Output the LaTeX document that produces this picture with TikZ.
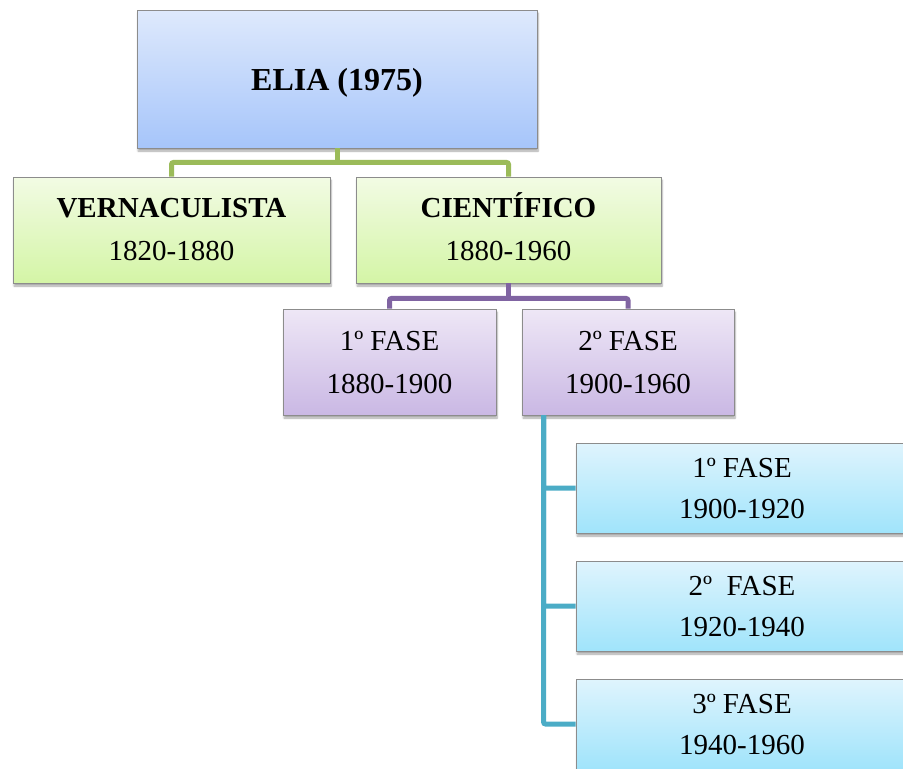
\documentclass[tikz,border=0pt]{standalone}
\usepackage{fontspec}
\setmainfont{Liberation Serif}
\usetikzlibrary{shadows.blur,calc}

\definecolor{eliaTop}{RGB}{222,233,252}
\definecolor{eliaBot}{RGB}{166,197,250}
\definecolor{grTop}{RGB}{242,251,228}
\definecolor{grBot}{RGB}{212,245,166}
\definecolor{puTop}{RGB}{238,231,246}
\definecolor{puBot}{RGB}{202,184,228}
\definecolor{tlTop}{RGB}{223,244,253}
\definecolor{tlBot}{RGB}{160,228,251}
\definecolor{grLine}{RGB}{155,187,89}
\definecolor{puLine}{RGB}{128,100,162}
\definecolor{tlLine}{RGB}{75,172,198}
\definecolor{boxEdge}{RGB}{140,140,140}

\tikzset{
  x=1pt, y=1pt,
  box/.style={draw=boxEdge, line width=0.9pt, align=center, inner sep=0pt,
    blur shadow={shadow xshift=1pt, shadow yshift=-3pt, shadow blur steps=6, shadow opacity=35},
    font=\fontsize{29}{43}\selectfont},
  rootbox/.style={box, top color=eliaTop, bottom color=eliaBot,
    minimum width=400pt, minimum height=138pt, text height=23pt, text depth=0pt,
    font=\fontsize{32}{40}\selectfont\bfseries},
  greenbox/.style={box, top color=grTop, bottom color=grBot, minimum height=106pt},
  purplebox/.style={box, top color=puTop, bottom color=puBot, minimum height=106pt},
  tealbox/.style={box, top color=tlTop, bottom color=tlBot,
    minimum width=332pt, minimum height=90pt, font=\fontsize{29}{41}\selectfont},
  link/.style={line width=5pt, rounded corners=2pt},
}

\begin{document}
\begin{tikzpicture}
\useasboundingbox (0,0) rectangle (903,-769);

% level 0
\node[rootbox] (elia) at (337,-79) {ELIA (1975)};

% level 1
\node[greenbox, minimum width=317pt] (vern) at (171.5,-230)
  {\textbf{VERNACULISTA}\\1820-1880};
\node[greenbox, minimum width=305pt] (cien) at (508.5,-230)
  {\textbf{CIENT\smash{Í}FICO}\\1880-1960};

% level 2
\node[purplebox, minimum width=213pt] (fa) at (389.5,-362) {1º FASE\\1880-1900};
\node[purplebox, minimum width=212pt] (fb) at (628,-362) {2º FASE\\1900-1960};

% level 3
\node[tealbox] (sa) at (742,-488) {1º FASE\\1900-1920};
\node[tealbox] (sb) at (742,-606) {2º\ \ FASE\\1920-1940};
\node[tealbox] (sc) at (742,-724) {3º FASE\\1940-1960};

% connectors
\coordinate (gm) at ($(elia.south)+(0,-14)$);
\draw[link, grLine] (elia.south) -- (gm);
\draw[link, grLine] (vern.north) |- (gm) -| (cien.north);

\coordinate (pm) at ($(cien.south)+(0,-15)$);
\draw[link, puLine] (cien.south) -- (pm);
\draw[link, puLine] (fa.north) |- (pm) -| (fb.north);

\coordinate (tr) at ($(fb.south west)+(22,0)$);
\draw[link, tlLine] (tr) |- (sa.west);
\draw[link, tlLine] (tr) |- (sb.west);
\draw[link, tlLine] (tr) |- (sc.west);
\end{tikzpicture}
\end{document}
